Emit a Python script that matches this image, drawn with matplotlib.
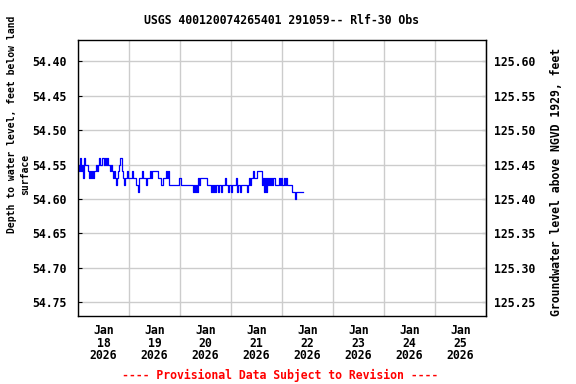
import matplotlib
matplotlib.use('Agg')
import matplotlib.pyplot as plt
import matplotlib.dates as mdates
from matplotlib.ticker import NullFormatter, FormatStrFormatter
import numpy as np
import pandas as pd

# depth to water, ft below land surface, 30-minute readings from Jan 18 00:00
start_time = '2026-01-18 00:00'
interval = '30min'
depth_ft = [
    54.55, 54.56, 54.54, 54.56, 54.55, 54.57, 54.54, 54.55, 54.55, 54.56, 54.57, 54.56,
    54.57, 54.56, 54.57, 54.56, 54.56, 54.55, 54.56, 54.55, 54.54, 54.55,
    54.55, 54.54, 54.55, 54.54, 54.55, 54.54, 54.55, 54.55, 54.56, 54.55, 54.56, 54.57,
    54.56, 54.57, 54.58, 54.57, 54.56, 54.55, 54.54, 54.56, 54.57, 54.58, 54.57, 54.57,
    54.56, 54.57, 54.57, 54.57, 54.57, 54.56, 54.57, 54.57, 54.57, 54.58, 54.59, 54.57,
    54.57, 54.57, 54.56, 54.57, 54.57, 54.57, 54.58, 54.57, 54.57, 54.57, 54.56, 54.57,
    54.56, 54.56, 54.56, 54.56, 54.56, 54.57, 54.57, 54.57, 54.58, 54.58, 54.57, 54.57,
    54.57, 54.56, 54.57, 54.56, 54.58, 54.58, 54.58, 54.58, 54.58, 54.58, 54.58, 54.58,
    54.58, 54.57, 54.57, 54.58, 54.58, 54.58, 54.58, 54.58, 54.58, 54.58, 54.58, 54.58,
    54.58, 54.58, 54.59, 54.58, 54.59, 54.58, 54.59, 54.57, 54.58, 54.57, 54.57, 54.57,
    54.57, 54.57, 54.57, 54.58, 54.58, 54.58, 54.58, 54.59, 54.58, 54.59, 54.58, 54.59,
    54.58, 54.58, 54.59, 54.58, 54.58, 54.59, 54.58, 54.58, 54.57, 54.58, 54.58, 54.59,
    54.58, 54.58, 54.59, 54.58, 54.58, 54.58, 54.58, 54.57, 54.59, 54.58, 54.59, 54.58,
    54.58, 54.58, 54.58, 54.58, 54.58, 54.59, 54.58, 54.57, 54.58, 54.57, 54.57, 54.56,
    54.57, 54.57, 54.56, 54.56, 54.56, 54.56, 54.56, 54.58, 54.57, 54.59, 54.57, 54.59,
    54.57, 54.58, 54.57, 54.58, 54.57, 54.58, 54.57, 54.58, 54.58, 54.58, 54.58, 54.57,
    54.58, 54.57, 54.58, 54.58, 54.57, 54.58, 54.57, 54.58, 54.58, 54.58, 54.58, 54.59,
    54.59, 54.59, 54.60, 54.59, 54.59, 54.59, 54.59, 54.59, 54.59, 54.59, 54.59,
]
depth_ticks = [54.40, 54.45, 54.50, 54.55, 54.60, 54.65, 54.70, 54.75]
elev_ticks = [125.25, 125.30, 125.35, 125.40, 125.45, 125.50, 125.55, 125.60]
datum_sum = 180.00  # land surface elevation, ft NGVD 1929

times = pd.date_range(start_time, periods=len(depth_ft), freq=interval)

font = dict(family='DejaVu Sans Mono', weight='bold')

fig = plt.figure(figsize=(5.76, 3.84), dpi=100)
ax = fig.add_axes([78 / 576, 68 / 384, 408 / 576, 276 / 384])

ax.plot(times, depth_ft, color='#0000ff', lw=0.9, drawstyle='steps-post')

ax.set_xlim(pd.Timestamp('2026-01-18'), pd.Timestamp('2026-01-26'))
ax.set_ylim(54.77, 54.369)

ax.xaxis.set_major_locator(mdates.DayLocator())
ax.xaxis.set_major_formatter(NullFormatter())
ax.xaxis.set_minor_locator(mdates.HourLocator(byhour=12))
ax.xaxis.set_minor_formatter(mdates.DateFormatter('%b\n%d\n%Y'))
ax.tick_params(axis='x', which='both', length=0)
ax.tick_params(axis='x', which='minor', pad=6)
for lab in ax.xaxis.get_minorticklabels():
    lab.set_linespacing(0.95)

ax.set_yticks(depth_ticks)
ax.yaxis.set_major_formatter(FormatStrFormatter('%.2f'))
ax.tick_params(axis='y', direction='in', length=3, pad=8)

ax.grid(True, which='major', color='#cccccc', lw=1.0)
ax.set_axisbelow(True)

sec = ax.secondary_yaxis('right', functions=(lambda d: datum_sum - d, lambda e: datum_sum - e))
sec.set_yticks(elev_ticks)
sec.yaxis.set_major_formatter(FormatStrFormatter('%.2f'))
sec.tick_params(axis='y', direction='in', length=3, pad=6)

for lab in ax.get_xticklabels(minor=True) + ax.get_yticklabels() + sec.get_yticklabels():
    lab.set_fontfamily(font['family'])
    lab.set_fontweight('bold')
    lab.set_fontsize(8.3)

for s in ax.spines.values():
    s.set_linewidth(1.0)

fig.text(282 / 576, 1 - 20 / 384, 'USGS 400120074265401 291059-- Rlf-30 Obs',
         ha='center', va='center', fontsize=8.3, **font)
fig.text(12 / 576, 1 - 124 / 384, 'Depth to water level, feet below land',
         rotation=90, ha='center', va='center', fontsize=7.0, **font)
fig.text(25 / 576, 1 - 174 / 384, 'surface',
         rotation=90, ha='center', va='center', fontsize=7.0, **font)
fig.text(557 / 576, 1 - 182 / 384, 'Groundwater level above NGVD 1929, feet',
         rotation=90, ha='center', va='center', fontsize=8.3, **font)
fig.text(280 / 576, 1 - 375 / 384, '---- Provisional Data Subject to Revision ----',
         ha='center', va='center', fontsize=8.3, color='red', **font)

fig.savefig('out.png', dpi=100)
